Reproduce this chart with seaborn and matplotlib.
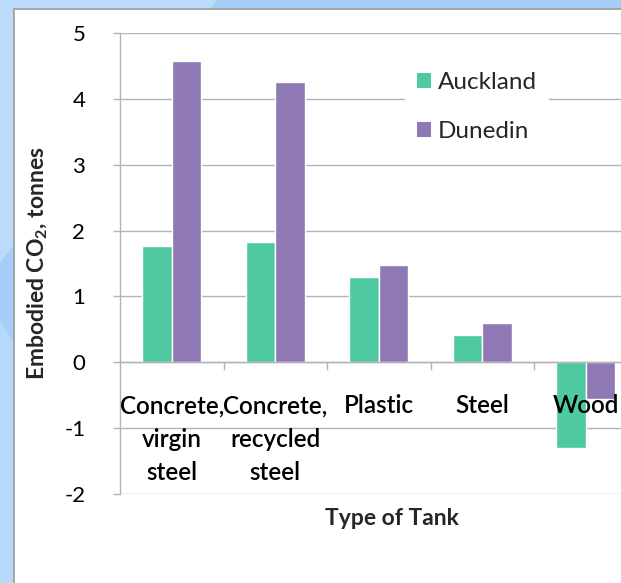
import matplotlib
matplotlib.use("Agg")
import matplotlib.pyplot as plt
from matplotlib.patches import Rectangle, Polygon
import seaborn as sns
import pandas as pd

# Embodied CO2 per tank type for two cities (tonnes)
tank_types = ["Concrete,\nvirgin\nsteel", "Concrete,\nrecycled\nsteel", "Plastic", "Steel", "Wood"]
auckland = [1.77, 1.82, 1.30, 0.42, -1.30]
dunedin = [4.57, 4.26, 1.47, 0.59, -0.55]
cities = ["Auckland", "Dunedin"]
y_ticks = [-2, -1, 0, 1, 2, 3, 4, 5]

teal = "#4FC9A2"
purple = "#8E79B4"
grid_grey = "#B4B4B4"

df = pd.DataFrame({
    "tank": tank_types * 2,
    "co2": auckland + dunedin,
    "city": [cities[0]] * len(tank_types) + [cities[1]] * len(tank_types),
})

sns.set_theme(style="white")
plt.rcParams["font.family"] = ["Lato", "DejaVu Sans"]
plt.rcParams["mathtext.fontset"] = "custom"
plt.rcParams["mathtext.bf"] = "Lato:bold"
plt.rcParams["mathtext.rm"] = "Lato:bold"

W, H = 621, 583
fig = plt.figure(figsize=(W / 100, H / 100), dpi=100)
fig.patch.set_facecolor("#A6CDF7")

# slide-style backdrop: lighter diagonal bands and a white panel
fig.patches.append(Polygon([(0, 1), (0.35, 1), (0, 0.55)], closed=True,
                           transform=fig.transFigure, facecolor="#BCDBFB",
                           edgecolor="none", zorder=-3))
fig.patches.append(Polygon([(0, 0.45), (0.03, 0.40), (0.03, 0.0), (0, 0.0)], closed=True,
                           transform=fig.transFigure, facecolor="#B8D8FA",
                           edgecolor="none", zorder=-3))
fig.patches.append(Rectangle((14 / W, -0.01), 1.0, 1 - 9 / H + 0.01,
                             transform=fig.transFigure, facecolor="white",
                             edgecolor="#9A9A9A", linewidth=1.2, zorder=-2))

ax = fig.add_axes([120 / W, 89 / H, 517.5 / W, 461 / H])
ax.set_facecolor("none")

sns.barplot(data=df, x="tank", y="co2", hue="city", palette=[teal, purple],
            width=0.57, gap=0, saturation=1, ax=ax, legend=False, zorder=3)

ax.set_ylim(-2, 5)
ax.set_xlim(-0.5, len(tank_types) - 0.5)
ax.set_yticks(y_ticks)
ax.set_yticklabels([str(v) for v in y_ticks])
ax.yaxis.grid(True, color=grid_grey, linewidth=1.0, zorder=0)
ax.set_axisbelow(True)
# category labels sit on top of the bars (the Wood label overlaps its bars)
ax.xaxis.set_zorder(4)

for side in ["top", "right"]:
    ax.spines[side].set_visible(False)
ax.spines["left"].set_color(grid_grey)
ax.spines["left"].set_linewidth(1.0)
ax.spines["bottom"].set_position(("data", 0))
ax.spines["bottom"].set_color(grid_grey)
ax.spines["bottom"].set_linewidth(1.0)
ax.spines["bottom"].set_zorder(4)

ax.tick_params(axis="y", which="major", direction="out", length=5, width=1,
               color=grid_grey, pad=20, labelsize=16, labelcolor="black", left=True)
ax.set_xticks(range(len(tank_types)))
ax.set_xticklabels(tank_types, linespacing=1.55, fontweight="semibold")
ax.set_xticks([i + 0.5 for i in range(len(tank_types))], minor=True)
ax.tick_params(axis="x", which="major", length=0, pad=23, labelsize=17.5, labelcolor="black")
ax.tick_params(axis="x", which="minor", direction="out", length=6, width=1,
               color=grid_grey, bottom=True)
for lbl in ax.get_xticklabels():
    lbl.set_verticalalignment("top")

ax.set_ylabel("Embodied CO$_2$, tonnes", fontsize=16.5, fontweight="bold")
ax.yaxis.set_label_coords((50 - 120) / 517.5, 0.5)
ax.set_xlabel("Type of Tank", fontsize=16.5, fontweight="bold")
ax.xaxis.set_label_coords((392 - 120) / 517.5, -0.03)

handles = [Rectangle((0, 0), 1, 1, facecolor=c, edgecolor="none") for c in [teal, purple]]
leg = fig.legend(handles, cities, loc="upper left",
                 bbox_to_anchor=(405 / W, 1 - 60 / H), bbox_transform=fig.transFigure,
                 frameon=True, fontsize=17.5, handlelength=0.55, handleheight=0.55,
                 handletextpad=0.3, labelspacing=1.15, borderpad=0.5, borderaxespad=0)
leg.get_frame().set_facecolor("white")
leg.get_frame().set_edgecolor("none")
leg.get_frame().set_alpha(1.0)
leg.get_frame().set_boxstyle("square", pad=0)

fig.savefig("out.png", dpi=100)
